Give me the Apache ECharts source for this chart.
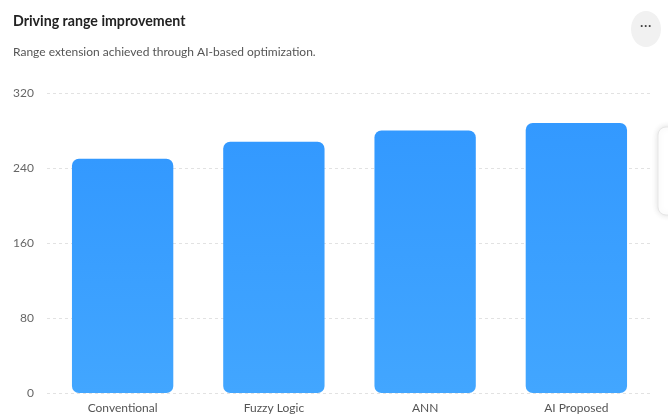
<!DOCTYPE html>
<html>
<head>
<meta charset="utf-8">
<script src="https://cdn.jsdelivr.net/npm/echarts@6/dist/echarts.min.js"></script>
<style>
  html, body { margin: 0; padding: 0; background: #ffffff; }
  #chart { width: 668px; height: 417px; }
</style>
</head>
<body>
<div id="chart"></div>
<script>
// Driving range per control strategy (km)
const categories = ['Conventional', 'Fuzzy Logic', 'ANN', 'AI Proposed'];
const rangeValues = [250, 268, 280, 288];
const yTicks = { min: 0, max: 320, interval: 80 };

const chart = echarts.init(document.getElementById('chart'), null, { renderer: 'canvas' });

const fontFamily = 'Lato, "Noto Sans", sans-serif';

chart.setOption({
  backgroundColor: '#ffffff',
  animation: false,
  title: [
    {
      text: 'Driving range improvement',
      left: 8,
      top: 9,
      textStyle: { fontFamily, fontSize: 14.2, fontWeight: 'bold', color: '#222222' }
    },
    {
      text: 'Range extension achieved through AI-based optimization.',
      left: 8,
      top: 41,
      textStyle: { fontFamily, fontSize: 12, fontWeight: 400, color: '#555555' }
    }
  ],
  grid: { left: 47, right: 16, top: 93, bottom: 24, containLabel: false },
  xAxis: {
    type: 'category',
    data: categories,
    axisLine: { show: false },
    axisTick: { show: false },
    axisLabel: { color: '#555555', fontFamily, fontSize: 12, margin: 9 }
  },
  yAxis: {
    type: 'value',
    min: yTicks.min,
    max: yTicks.max,
    interval: yTicks.interval,
    axisLine: { show: false },
    axisTick: { show: false },
    axisLabel: { color: '#666666', fontFamily, fontSize: 12, margin: 13 },
    splitLine: { lineStyle: { color: '#e2e2e2', type: [3, 3], width: 1 } }
  },
  series: [
    {
      type: 'bar',
      data: rangeValues,
      barWidth: '67%',
      itemStyle: {
        borderRadius: 7,
        color: new echarts.graphic.LinearGradient(0, 0, 0, 1, [
          { offset: 0, color: '#3399ff' },
          { offset: 1, color: '#42a6ff' }
        ])
      }
    }
  ],
  graphic: [
    // menu button
    {
      type: 'ellipse',
      shape: { cx: 646, cy: 29, rx: 15, ry: 18 },
      style: { fill: '#f1f1f1' }
    },
    {
      type: 'text',
      x: 646,
      y: 27,
      style: { text: '···', fill: '#444444', font: 'bold 12px sans-serif', align: 'center', verticalAlign: 'middle' }
    },
    // edge of a side panel peeking in at the right border
    {
      type: 'rect',
      shape: { x: 658, y: 127, width: 30, height: 88, r: 8 },
      style: {
        fill: '#ffffff',
        stroke: '#e6e6e6',
        lineWidth: 1,
        shadowBlur: 6,
        shadowColor: 'rgba(0,0,0,0.12)'
      }
    }
  ]
});
</script>
</body>
</html>
